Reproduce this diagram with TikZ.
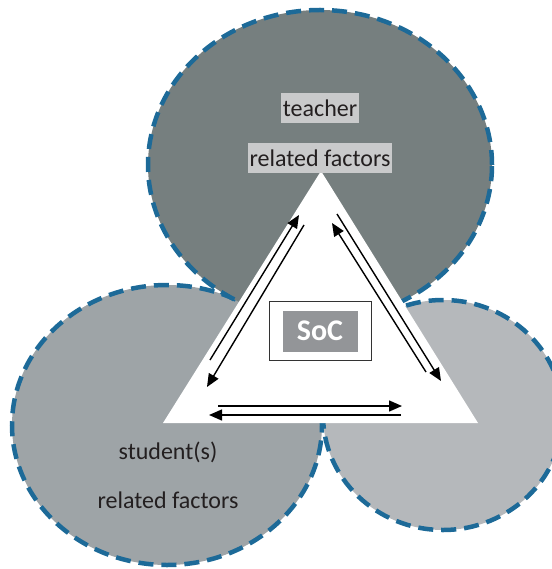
\documentclass[tikz,border=0pt]{standalone}
\usepackage{fontspec}
\setmainfont{Carlito}
\usepackage{xcolor}
\usetikzlibrary{arrows.meta,shapes.geometric}
\definecolor{rimblue}{HTML}{1D6A98}
\definecolor{teachgray}{HTML}{767F7F}
\definecolor{studgray}{HTML}{9EA4A7}
\definecolor{thirdgray}{HTML}{B5B8BB}
\definecolor{labelbg}{HTML}{C9CACB}
\definecolor{socgray}{HTML}{939598}
\definecolor{txtcol}{HTML}{231F20}

\begin{document}
\begin{tikzpicture}[x=1pt, y=-1pt,
  zone/.style={ellipse, draw=rimblue, line width=4.5pt, dash pattern=on 15pt off 8pt,
               inner sep=0pt},
  lbl/.style={font=\fontsize{24}{26}\selectfont, text=txtcol, inner xsep=1.5pt,
              inner ysep=0pt, minimum height=30pt},
  link/.style={-{Triangle[length=13pt,width=11pt]}, line width=1.4pt}
]
  \useasboundingbox (0,0) rectangle (551,569);
  % the three zones
  \node[zone, fill=studgray, minimum width=310pt, minimum height=280pt] (student) at (167,425) {};
  \node[zone, fill=thirdgray, minimum width=240pt, minimum height=230pt] (context) at (443,415) {};
  \node[zone, fill=teachgray, minimum width=344pt, minimum height=310pt] (teacher) at (320,165) {};
  % triangle
  \coordinate (apex) at (321,171);
  \coordinate (lcorner) at (163,423);
  \coordinate (rcorner) at (478,423);
  \fill[white] (apex) -- (lcorner) -- (rcorner) -- cycle;
  % labels
  \node[lbl, fill=labelbg] (teach1) at (320,108) {teacher};
  \node[lbl, fill=labelbg] (teach2) at (320,158) {related factors};
  \node[lbl] (stud1) at (168,452) {student(s)};
  \node[lbl] (stud2) at (168,500) {related factors};
  % SoC
  \node[draw=black!80, line width=0.9pt, fill=white, minimum width=102pt, minimum height=59pt]
    (socframe) at (320,331) {};
  \node[fill=socgray, text=white, font=\bfseries\fontsize{30}{32}\selectfont,
        minimum width=75pt, minimum height=41pt, inner sep=0pt] (soc) at (socframe) {SoC};
  % arrows along the sides
  \coordinate (l1s) at (210,360); \coordinate (l1e) at (299,215);
  \coordinate (l2s) at (304,225); \coordinate (l2e) at (207,387);
  \coordinate (r1s) at (337,214); \coordinate (r1e) at (441,381);
  \coordinate (r2s) at (426,372); \coordinate (r2e) at (332,223);
  \coordinate (b1s) at (218,406); \coordinate (b1e) at (402,406);
  \coordinate (b2s) at (401,415); \coordinate (b2e) at (209,415);
  \draw[link] (l1s) -- (l1e);
  \draw[link] (l2s) -- (l2e);
  \draw[link] (r1s) -- (r1e);
  \draw[link] (r2s) -- (r2e);
  \draw[link] (b1s) -- (b1e);
  \draw[link] (b2s) -- (b2e);
\end{tikzpicture}
\end{document}
